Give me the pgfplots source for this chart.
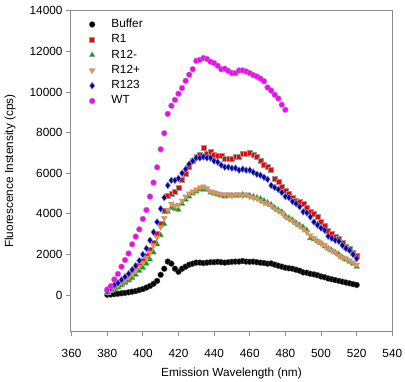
\documentclass[border=0pt]{standalone}
\usepackage{pgfplots}
\pgfplotsset{compat=1.18}
\usepackage{pgfplotstable}
\usepackage{fontspec}
\setmainfont{Liberation Sans}
\definecolor{cred}{RGB}{250,0,0}
\definecolor{cgreen}{RGB}{0,165,0}
\definecolor{corange}{RGB}{245,145,60}
\definecolor{cblue}{RGB}{0,0,190}
\definecolor{cmag}{RGB}{255,0,255}
\definecolor{cframe}{RGB}{140,140,140}
\pgfplotstableread{
x buf r1 r12m r12p r123
380 20 150 100 150 200
382 30 250 200 250 350
384 50 380 280 380 500
386 70 480 380 480 600
388 90 600 480 600 750
390 110 730 600 730 900
392 140 870 720 870 1050
394 170 1050 850 1020 1250
396 200 1250 1000 1200 1450
398 250 1450 1200 1400 1700
400 300 1700 1350 1600 2000
402 370 1950 1550 1850 2300
404 450 2250 1750 2100 2700
406 560 2600 2100 2450 3100
408 700 3000 2500 2850 3600
410 1000 3500 2950 3350 4250
412 1300 4150 3500 3800 4800
414 1650 4900 4100 4200 5400
416 1550 5000 4300 4500 5650
418 1300 5100 4250 4400 5650
420 1150 5300 4200 4450 5750
422 1300 5700 4500 4650 6000
424 1400 6000 4700 4850 6200
426 1500 6300 4850 5000 6450
428 1550 6600 5000 5100 6600
430 1600 6800 5100 5200 6750
432 1600 6900 5200 5300 6750
434 1580 7250 5200 5350 6800
436 1600 6950 5200 5250 6750
438 1620 7050 5050 5100 6750
440 1620 6900 5000 5050 6600
442 1640 6850 4950 5000 6550
444 1620 6850 4900 4950 6400
446 1600 6700 4850 4950 6300
448 1620 6700 4900 4950 6300
450 1640 6700 4900 4900 6250
452 1650 6800 4900 4950 6250
454 1650 6800 4900 4950 6150
456 1680 6950 4950 4900 6200
458 1650 6950 4900 4950 6150
460 1640 7000 4900 4850 6150
462 1650 6900 4850 4800 6050
464 1620 6800 4800 4750 5950
466 1600 6600 4750 4650 5900
468 1580 6400 4650 4550 5800
470 1550 6300 4550 4500 5700
472 1560 6150 4450 4400 5400
474 1500 5750 4300 4250 5300
476 1450 5600 4200 4150 5200
478 1400 5350 4100 4050 5050
480 1350 5150 3900 3850 4850
482 1320 5000 3800 3750 4800
484 1300 4800 3700 3650 4600
486 1250 4650 3550 3500 4500
488 1200 4600 3450 3400 4350
490 1120 4500 3350 3250 4100
492 1100 4300 3200 3100 4050
494 1050 4100 2800 2950 3850
496 1020 4000 2750 2800 3600
498 980 3850 2650 2650 3450
500 920 3600 2550 2550 3300
502 880 3400 2400 2450 3200
504 820 3150 2300 2300 2900
506 780 3000 2200 2200 2800
508 740 2900 2100 2100 2700
510 700 2800 2000 1950 2650
512 660 2600 1850 1850 2450
514 620 2400 1750 1800 2300
516 580 2300 1650 1700 2200
518 540 2100 1550 1600 2000
520 500 1950 1400 1500 1800
}\datatab
\pgfplotstableread{
x wt
380 280
382 440
384 770
386 1040
388 1400
390 1730
392 2050
394 2500
396 2880
398 3240
400 3750
402 4190
404 4850
406 5540
408 6290
410 7180
412 7970
414 8920
416 9320
418 9610
420 9910
422 10190
424 10550
426 10850
428 11120
430 11530
432 11580
434 11670
436 11620
438 11490
440 11420
442 11290
444 11120
446 11140
448 11030
450 10930
452 10930
454 11060
456 11060
458 11010
460 10930
462 10830
464 10760
466 10660
468 10530
470 10220
472 10070
474 9860
476 9680
478 9370
480 9120
}\wttab
\begin{document}
\begin{tikzpicture}
\path[use as bounding box] (-70.7pt,-50.3pt) rectangle (334.3pt,331.7pt);
\begin{axis}[
  at={(0pt,0pt)}, anchor=south west,
  scale only axis, width=321.6pt, height=321pt,
  xmin=359.5, xmax=540, ymin=-1800, ymax=14000,
  xtick={360,380,...,540}, ytick={0,2000,...,14000},
  axis line style={cframe, line width=0.8pt},
  tick style={cframe, line width=0.8pt},
  tick align=outside, major tick length=4.7pt,
  xtick pos=bottom, ytick pos=left,
  scaled ticks=false,
  /pgf/number format/assume math mode=true,
  /pgf/number format/1000 sep={},
  tick label style={font=\fontsize{11.8}{13}\selectfont},
  xticklabel style={yshift=-9pt},
  label style={font=\fontsize{11.8}{13}\selectfont},
  xlabel={Emission Wavelength (nm)},
  ylabel={Fluorescence Instensity (cps)},
  xlabel style={at={(axis description cs:0.5,-0.1287)}, anchor=center},
  ylabel style={at={(axis description cs:-0.1887,0.5)}, anchor=center},
  legend cell align=left,
  legend style={at={(0.039,0.981)}, anchor=north west, draw=none, fill=none,
    inner sep=0pt, row sep=0.3pt,
    font=\fontsize{11.8}{13}\selectfont,
    nodes={inner sep=2pt, text height=8.5pt, text depth=2.5pt}},
  legend image code/.code={\draw[#1] plot coordinates {(0.3cm,0cm)}; \path (0cm,0cm) (0.9cm,0cm);},
]
\addplot[only marks, mark=*, mark size=2.9pt, mark options={fill=black, draw=black!70}] table[x=x,y=buf] {\datatab};
\addlegendentry{Buffer}
\addplot[only marks, mark=square*, mark size=2.5pt, mark options={fill=cred, draw=gray!80, line width=0.4pt}] table[x=x,y=r1] {\datatab};
\addlegendentry{R1}
\addplot[only marks, mark=triangle*, mark size=3.3pt, mark options={fill=cgreen, draw=gray!80, line width=0.4pt}] table[x=x,y=r12m] {\datatab};
\addlegendentry{R12-}
\addplot[only marks, mark=triangle*, mark size=3.3pt, mark options={rotate=180, fill=corange, draw=gray!80, line width=0.4pt}] table[x=x,y=r12p] {\datatab};
\addlegendentry{R12+}
\addplot[only marks, mark=diamond*, mark size=3.5pt, mark options={fill=cblue, draw=gray!80, line width=0.4pt}] table[x=x,y=r123] {\datatab};
\addlegendentry{R123}
\addplot[only marks, mark=*, mark size=2.9pt, mark options={fill=cmag, draw=gray!80, line width=0.4pt}] table[x=x,y=wt] {\wttab};
\addlegendentry{WT}
\end{axis}
\end{tikzpicture}
\end{document}
